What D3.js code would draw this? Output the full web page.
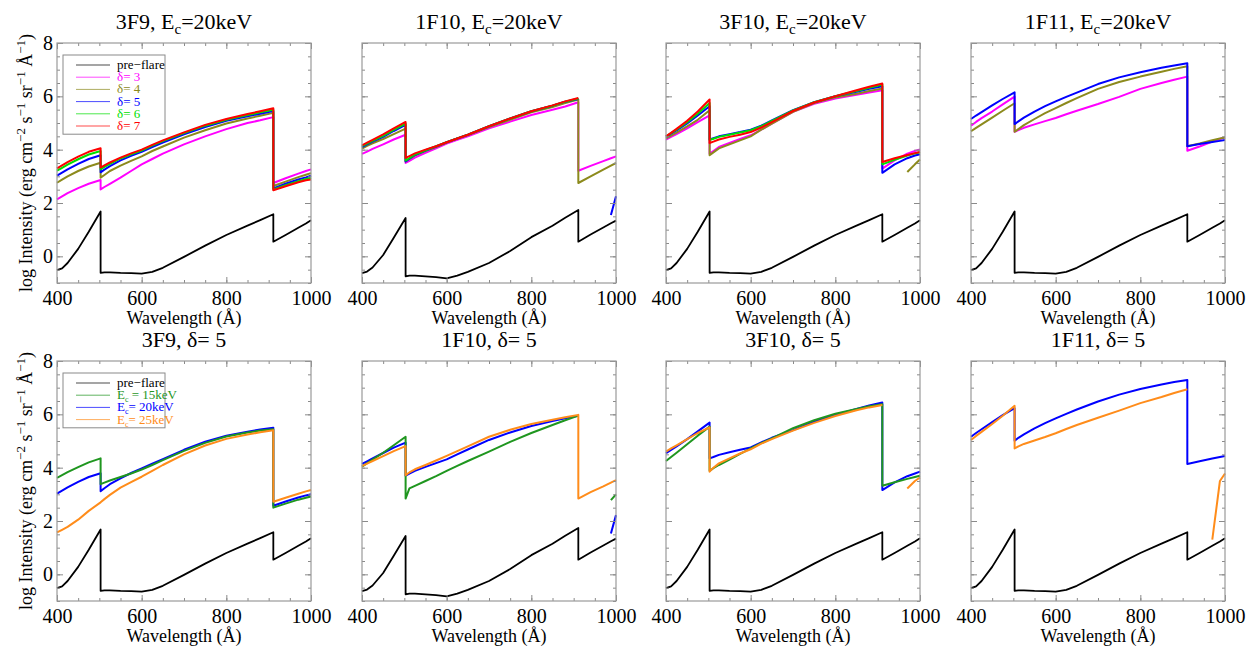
<!DOCTYPE html>
<html>
<head>
<meta charset="utf-8">
<script src="https://cdn.jsdelivr.net/npm/d3@7"></script>
<style>
  body { margin: 0; background: #fff; }
  svg text { font-family: "Liberation Serif", "Times New Roman", "DejaVu Serif", serif; }
</style>
</head>
<body>
<svg width="1252" height="648" font-family="Liberation Serif"></svg>
<script>
// wavelength grid (A), edges repeated for the jumps
var wl = [400, 412, 425, 450, 475, 503, 503, 512, 525, 550, 575, 600, 625, 650, 700, 750, 800, 850, 880, 911, 911, 940, 970, 988, 1000];

var xTicks = [400, 600, 800, 1000];
var yTicks = [0, 2, 4, 6, 8];

var preFlare = [-0.52,-0.45,-0.25,0.28,0.92,1.68,-0.62,-0.6,-0.6,-0.62,-0.63,-0.65,-0.58,-0.43,-0.02,0.4,0.8,1.15,1.36,1.58,0.55,0.8,1.07,1.23,1.35];
var preFlare1F10 = [-0.63,-0.57,-0.42,0.05,0.7,1.44,-0.75,-0.72,-0.72,-0.75,-0.78,-0.83,-0.72,-0.58,-0.25,0.2,0.72,1.15,1.45,1.74,0.55,0.82,1.08,1.24,1.34];

// top row, Ec = 20 keV, delta = 3..7
var f3F9_d3 = [2.14,2.25,2.37,2.56,2.72,2.86,2.51,2.6,2.72,2.95,3.2,3.45,3.65,3.85,4.2,4.5,4.77,5.0,5.1,5.22,2.75,2.93,3.1,3.2,3.26];
var f3F9_d4 = [2.76,2.88,3.0,3.2,3.37,3.51,2.95,3.05,3.2,3.4,3.58,3.75,3.95,4.12,4.45,4.73,4.98,5.17,5.27,5.38,2.64,2.8,2.97,3.06,3.12];
var f3F9_d5 = [3.03,3.14,3.26,3.47,3.65,3.79,3.15,3.25,3.38,3.6,3.77,3.92,4.1,4.27,4.58,4.85,5.08,5.25,5.35,5.45,2.55,2.72,2.88,2.96,3.02];
var f3F9_d6 = [3.21,3.32,3.44,3.64,3.82,3.95,3.26,3.35,3.47,3.67,3.83,3.97,4.15,4.32,4.62,4.9,5.12,5.3,5.4,5.5,2.51,2.67,2.82,2.9,2.95];
var f3F9_d7 = [3.3,3.41,3.53,3.74,3.92,4.05,3.33,3.41,3.52,3.7,3.86,4.0,4.18,4.35,4.65,4.93,5.15,5.34,5.44,5.55,2.48,2.63,2.78,2.85,2.88];

var f1F10_d3 = [3.84,3.93,4.03,4.2,4.38,4.56,3.5,3.58,3.7,3.88,4.05,4.23,4.37,4.5,4.8,5.05,5.3,5.5,5.62,5.78,3.21,3.39,3.57,3.68,3.75];
var f1F10_d4 = [4.04,4.14,4.24,4.4,4.58,4.79,3.56,3.65,3.78,3.95,4.1,4.27,4.42,4.55,4.85,5.12,5.4,5.6,5.75,5.88,2.75,3.0,3.25,3.4,3.5];
var f1F10_d5 = [4.1,4.2,4.3,4.48,4.7,4.93,3.56,3.66,3.8,3.97,4.12,4.28,4.42,4.56,4.88,5.17,5.44,5.65,5.8,5.9,null,null,null,1.55,2.25];
var f1F10_d6 = [4.13,4.23,4.33,4.52,4.74,4.98,3.59,3.68,3.82,3.98,4.13,4.28,4.42,4.56,4.88,5.17,5.44,5.65,5.8,5.92,null,null,null,null,null];
var f1F10_d7 = [4.16,4.26,4.37,4.57,4.8,5.04,3.69,3.76,3.86,4.0,4.13,4.28,4.42,4.56,4.88,5.17,5.44,5.66,5.81,5.94,null,null,null,null,null];

var f3F10_d3 = [4.38,4.48,4.58,4.8,5.03,5.29,3.85,3.95,4.1,4.25,4.4,4.54,4.75,4.98,5.42,5.72,5.92,6.06,6.14,6.23,3.29,3.6,3.85,3.95,4.01];
var f3F10_d4 = [4.42,4.53,4.64,4.87,5.12,5.48,3.79,3.9,4.05,4.2,4.35,4.5,4.75,4.98,5.42,5.75,5.96,6.1,6.2,6.29,null,null,3.16,3.45,3.63];
var f3F10_d5 = [4.48,4.6,4.72,4.98,5.28,5.63,4.38,4.43,4.5,4.58,4.66,4.75,4.9,5.1,5.48,5.78,6.0,6.17,6.28,6.38,3.13,3.45,3.68,3.78,3.83];
var f3F10_d6 = [4.5,4.62,4.75,5.03,5.35,5.75,4.36,4.41,4.48,4.56,4.64,4.73,4.88,5.08,5.47,5.78,6.0,6.2,6.32,6.44,3.45,3.62,3.78,3.86,3.9];
var f3F10_d7 = [4.5,4.63,4.78,5.08,5.43,5.88,4.25,4.3,4.38,4.48,4.56,4.66,4.83,5.03,5.45,5.77,6.0,6.23,6.36,6.48,3.54,3.68,3.8,3.87,3.91];

var f1F11_d3 = [4.9,5.04,5.18,5.43,5.7,5.99,4.67,4.73,4.82,4.95,5.07,5.19,5.33,5.46,5.71,5.98,6.28,6.5,6.62,6.74,3.96,4.12,4.3,4.4,4.46];
var f1F11_d4 = [4.69,4.82,4.95,5.2,5.46,5.74,4.67,4.77,4.92,5.15,5.37,5.56,5.75,5.93,6.28,6.54,6.74,6.92,7.03,7.13,4.13,4.23,4.35,4.42,4.46];
var f1F11_d5 = [5.15,5.28,5.41,5.66,5.9,6.15,4.96,5.06,5.2,5.43,5.63,5.81,5.98,6.14,6.46,6.71,6.9,7.07,7.16,7.24,4.13,4.21,4.29,4.33,4.36];

// bottom row, delta = 5, Ec = 15, 20, 25 keV
var f3F9_e15 = [3.62,3.72,3.83,4.02,4.2,4.35,3.38,3.44,3.52,3.65,3.78,3.93,4.1,4.28,4.63,4.93,5.17,5.32,5.39,5.44,2.5,2.65,2.8,2.87,2.92];
var f3F9_e20 = [3.03,3.14,3.26,3.47,3.65,3.79,3.12,3.23,3.38,3.6,3.8,3.97,4.15,4.32,4.67,4.97,5.2,5.35,5.43,5.5,2.57,2.73,2.88,2.96,3.0];
var f3F9_e25 = [1.57,1.67,1.78,2.05,2.38,2.7,2.7,2.82,2.98,3.25,3.46,3.66,3.88,4.1,4.5,4.83,5.08,5.24,5.33,5.4,2.72,2.87,3.02,3.11,3.16];

var f1F10_e15 = [4.04,4.17,4.3,4.56,4.84,5.16,2.84,3.22,3.32,3.5,3.68,3.88,4.07,4.25,4.6,4.97,5.3,5.6,5.78,5.95,null,null,null,2.78,3.0];
var f1F10_e20 = [4.14,4.24,4.35,4.55,4.75,4.94,3.7,3.78,3.88,4.03,4.17,4.31,4.5,4.68,5.04,5.32,5.56,5.75,5.85,5.95,null,null,null,1.53,2.22];
var f1F10_e25 = [4.06,4.15,4.25,4.43,4.62,4.81,3.72,3.82,3.94,4.1,4.27,4.44,4.62,4.8,5.16,5.42,5.64,5.8,5.89,5.98,2.84,3.08,3.3,3.44,3.53];

var f3F10_e15 = [4.25,4.4,4.56,4.88,5.2,5.54,3.88,3.98,4.1,4.3,4.52,4.72,4.92,5.1,5.48,5.78,6.02,6.2,6.3,6.38,3.32,3.45,3.58,3.65,3.7];
var f3F10_e20 = [4.54,4.67,4.8,5.07,5.36,5.69,4.35,4.4,4.48,4.58,4.67,4.76,4.95,5.12,5.41,5.72,5.98,6.2,6.33,6.44,3.16,3.45,3.68,3.78,3.85];
var f3F10_e25 = [4.6,4.72,4.84,5.07,5.3,5.51,3.85,4.0,4.16,4.35,4.53,4.69,4.9,5.07,5.39,5.68,5.94,6.15,6.26,6.35,null,null,3.22,3.5,3.63];

var f1F11_e20 = [5.16,5.3,5.44,5.71,5.97,6.23,5.01,5.12,5.25,5.47,5.67,5.85,6.02,6.18,6.48,6.74,6.95,7.12,7.21,7.29,4.14,4.24,4.34,4.4,4.44];
var f1F11_e25 = [5.04,5.19,5.34,5.64,5.95,6.32,4.72,4.8,4.89,5.02,5.15,5.29,5.45,5.6,5.87,6.14,6.42,6.65,6.8,6.94,null,null,1.3,3.5,3.78];

var deltaColors = {pre: "#000000", d3: "#ff00ff", d4: "#8c8a1c", d5: "#0000ff", d6: "#00e000", d7: "#ff0000"};
var ecColors = {pre: "#000000", e15: "#1f961f", e20: "#0000ff", e25: "#ff8c1a"};

var topPanels = [
    {name: "3F9", series: [[preFlare, "pre"], [f3F9_d3, "d3"], [f3F9_d4, "d4"], [f3F9_d5, "d5"], [f3F9_d6, "d6"], [f3F9_d7, "d7"]]},
    {name: "1F10", series: [[preFlare1F10, "pre"], [f1F10_d3, "d3"], [f1F10_d4, "d4"], [f1F10_d5, "d5"], [f1F10_d6, "d6"], [f1F10_d7, "d7"]]},
    {name: "3F10", series: [[preFlare, "pre"], [f3F10_d3, "d3"], [f3F10_d4, "d4"], [f3F10_d5, "d5"], [f3F10_d6, "d6"], [f3F10_d7, "d7"]]},
    {name: "1F11", series: [[preFlare, "pre"], [f1F11_d3, "d3"], [f1F11_d4, "d4"], [f1F11_d5, "d5"]]}
];
var bottomPanels = [
    {name: "3F9", series: [[preFlare, "pre"], [f3F9_e20, "e20"], [f3F9_e15, "e15"], [f3F9_e25, "e25"]]},
    {name: "1F10", series: [[preFlare1F10, "pre"], [f1F10_e20, "e20"], [f1F10_e15, "e15"], [f1F10_e25, "e25"]]},
    {name: "3F10", series: [[preFlare, "pre"], [f3F10_e20, "e20"], [f3F10_e15, "e15"], [f3F10_e25, "e25"]]},
    {name: "1F11", series: [[preFlare, "pre"], [f1F11_e20, "e20"], [f1F11_e25, "e25"]]}
];

var panelLefts = [57, 362, 666, 971];
var rowTops = [43, 361];
var pw = 254, ph = 240;
var serif = "'Liberation Serif', 'Times New Roman', serif";

var svg = d3.select("svg");

var x = d3.scaleLinear().domain([400, 1000]).range([0, pw]);
var y = d3.scaleLinear().domain([-1, 8]).range([ph, 0]);

var line = d3.line()
        .defined(function(d){return d[1] !== null;})
        .x(function(d){return x(d[0]);})
        .y(function(d){return y(d[1]);});

var addTitle = function(g, parts) {
    var t = g.append("text")
            .attr("x", pw / 2)
            .attr("y", -14)
            .attr("text-anchor", "middle")
            .style("font-family", serif)
            .style("font-size", "22px");
    parts.forEach(function(p) {
        var s = t.append("tspan").text(p[0]);
        if (p[1] === "sub") {
            s.attr("dy", 5).style("font-size", "15px");
        } else if (p[1] === "back") {
            s.attr("dy", -5);
        }
    });
};

var drawAxes = function(g, withLabels) {
    var minorX = d3.range(400, 1001, 50);
    var minorY = d3.range(-1, 8.01, 0.5);

    var axes = [
        d3.axisBottom(x).tickValues(minorX).tickSizeInner(-3).tickSizeOuter(0).tickFormat(""),
        d3.axisTop(x).tickValues(minorX).tickSizeInner(-3).tickSizeOuter(0).tickFormat(""),
        d3.axisTop(x).tickValues(xTicks).tickSizeInner(-6).tickSizeOuter(0).tickFormat(""),
        d3.axisLeft(y).tickValues(minorY).tickSizeInner(-3).tickSizeOuter(0).tickFormat(""),
        d3.axisRight(y).tickValues(minorY).tickSizeInner(-3).tickSizeOuter(0).tickFormat(""),
        d3.axisRight(y).tickValues(yTicks).tickSizeInner(-6).tickSizeOuter(0).tickFormat("")
    ];
    var shifts = [[0, ph], [0, 0], [0, 0], [0, 0], [pw, 0], [pw, 0]];
    axes.forEach(function(a, i) {
        g.append("g").attr("transform", "translate(" + shifts[i][0] + "," + shifts[i][1] + ")").call(a);
    });

    var xb = g.append("g").attr("transform", "translate(0," + ph + ")")
            .call(d3.axisBottom(x).tickValues(xTicks).tickSizeInner(-6).tickSizeOuter(0).tickPadding(8).tickFormat(d3.format("d")));
    xb.selectAll("text").style("font-size", "20px").style("font-family", serif).attr("fill", "#000");

    var yl = g.append("g")
            .call(d3.axisLeft(y).tickValues(yTicks).tickSizeInner(-6).tickSizeOuter(0).tickPadding(4)
                .tickFormat(withLabels ? d3.format("d") : ""));
    yl.selectAll("text").style("font-size", "20px").style("font-family", serif).attr("fill", "#000");

    g.selectAll(".domain").remove();
    g.selectAll(".tick line").attr("stroke", "#8a8a8a");

    g.append("rect")
            .attr("width", pw)
            .attr("height", ph)
            .attr("fill", "none")
            .attr("stroke", "#9a9a9a")
            .attr("stroke-width", 1.2);

    g.append("text")
            .attr("x", pw / 2)
            .attr("y", ph + 41)
            .attr("text-anchor", "middle")
            .style("font-family", serif)
            .style("font-size", "18px")
            .text("Wavelength (\u00c5)");

    if (withLabels) {
        var yt = g.append("text")
                .attr("transform", "translate(-25," + (ph / 2) + ") rotate(-90)")
                .attr("text-anchor", "middle")
                .style("font-family", serif)
                .style("font-size", "18px");
        var parts = [["log Intensity (erg cm", 0], ["\u22122", 1], [" s", 0], ["\u22121", 1], [" sr", 0], ["\u22121", 1], [" \u00c5", 0], ["\u22121", 1], [")", 0]];
        parts.forEach(function(p, k) {
            var s = yt.append("tspan").text(p[0]);
            if (p[1]) s.attr("dy", -7).style("font-size", "13px");
            else if (k > 0) s.attr("dy", 7);
        });
    }
};

var drawSeries = function(g, series, colors) {
    series.forEach(function(s) {
        var pts = wl.map(function(w, i){return [w, s[0][i]];});
        g.append("path")
                .datum(pts)
                .attr("d", line)
                .attr("fill", "none")
                .attr("stroke", colors[s[1]])
                .attr("stroke-width", s[1] === "pre" ? 1.8 : 2)
                .attr("stroke-linejoin", "round");
    });
};

var drawLegend = function(g, entries, rowH) {
    var lg = g.append("g").attr("transform", "translate(6,12)");
    var h = entries.length * rowH + 6;
    lg.append("rect")
            .attr("width", 102)
            .attr("height", h)
            .attr("fill", "#fff")
            .attr("stroke", "#8a8a8a")
            .attr("stroke-width", 1);
    entries.forEach(function(e, i) {
        var yy = 10 + i * rowH;
        lg.append("line")
                .attr("x1", 13).attr("x2", 47)
                .attr("y1", yy).attr("y2", yy)
                .attr("stroke", e.color)
                .attr("stroke-width", 1)
                .attr("opacity", 0.7);
        var t = lg.append("text")
                .attr("x", 54)
                .attr("y", yy + 4)
                .attr("fill", e.color)
                .style("font-family", serif)
                .style("font-size", "13px");
        e.parts.forEach(function(p) {
            var s = t.append("tspan").text(p[0]);
            if (p[1] === "sub") s.attr("dy", 3).style("font-size", "8px");
            if (p[1] === "back") s.attr("dy", -3);
        });
    });
};

topPanels.forEach(function(p, i) {
    var g = svg.append("g").attr("transform", "translate(" + panelLefts[i] + "," + rowTops[0] + ")");
    drawSeries(g, p.series, deltaColors);
    drawAxes(g, i === 0);
    addTitle(g, [[p.name + ", E"], ["c", "sub"], ["=20keV", "back"]]);
    if (i === 0) {
        drawLegend(g, [
            {color: "#000", parts: [["pre\u2212flare"]]},
            {color: deltaColors.d3, parts: [["\u03b4= 3"]]},
            {color: deltaColors.d4, parts: [["\u03b4= 4"]]},
            {color: deltaColors.d5, parts: [["\u03b4= 5"]]},
            {color: deltaColors.d6, parts: [["\u03b4= 6"]]},
            {color: deltaColors.d7, parts: [["\u03b4= 7"]]}
        ], 12.2);
    }
});

bottomPanels.forEach(function(p, i) {
    var g = svg.append("g").attr("transform", "translate(" + panelLefts[i] + "," + rowTops[1] + ")");
    drawSeries(g, p.series, ecColors);
    drawAxes(g, i === 0);
    addTitle(g, [[p.name + ", \u03b4= 5"]]);
    if (i === 0) {
        drawLegend(g, [
            {color: "#000", parts: [["pre\u2212flare"]]},
            {color: ecColors.e15, parts: [["E"], ["c", "sub"], [" = 15keV", "back"]]},
            {color: ecColors.e20, parts: [["E"], ["c", "sub"], ["= 20keV", "back"]]},
            {color: ecColors.e25, parts: [["E"], ["c", "sub"], ["= 25keV", "back"]]}
        ], 12.2);
    }
});
</script>
</body>
</html>
